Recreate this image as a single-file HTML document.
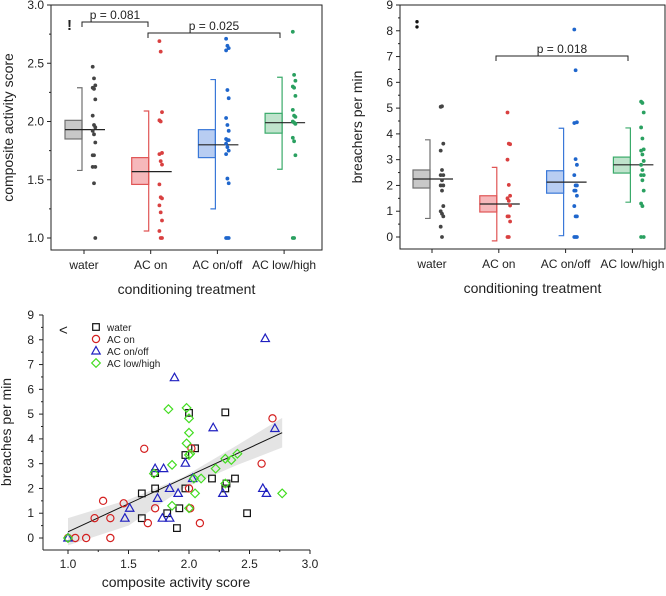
<!DOCTYPE html>
<html><head><meta charset="utf-8">
<style>
body{margin:0;background:#fff;width:666px;height:591px;overflow:hidden}
svg{font-family:"Liberation Sans",Arial,sans-serif}
</style></head>
<body>
<svg id="s" width="666" height="591"></svg>
<script>
const cats=["water","AC on","AC on/off","AC low/high"];
const colsStroke=["#707070","#e05555","#3a78d8","#3aaa6a"];
const colsFill=["#c8c8c8","#f6b8bb","#b8cdf2","#bfe3cc"];
const dotCols=["#444","#d94040","#1f66cc","#2aa060"];
// panel A: composite activity score
const actDots=[
[2.47,2.37,2.31,2.29,2.28,2.19,2.05,1.97,1.95,1.92,1.89,1.82,1.71,1.71,1.61,1.61,1.47,1.0],
[2.69,2.6,2.08,2.01,2.0,1.73,1.72,1.66,1.63,1.46,1.35,1.34,1.28,1.22,1.15,1.06,1.0,1.0],
[2.71,2.65,2.63,2.61,2.27,2.2,2.03,1.97,1.92,1.85,1.84,1.84,1.81,1.78,1.75,1.72,1.51,1.47,1.0,1.0,1.0],
[2.77,2.4,2.35,2.3,2.29,2.22,2.1,2.05,2.04,2.0,1.99,1.98,1.86,1.83,1.71,1.0,1.0]];
const actBox=[[1.85,2.01],[1.46,1.69],[1.69,1.93],[1.9,2.07]];
const actMed=[1.93,1.57,1.8,1.99];
const actWhisk=[[1.58,2.29],[1.06,2.09],[1.25,2.36],[1.59,2.38]];
const actTicks=[1.0,1.5,2.0,2.5,3.0];
// panel B: breachers per min
const brDots=[
[5.05,5.07,3.62,3.35,2.6,2.4,2.4,2.2,2.0,2.0,1.8,1.2,1.0,0.9,0.8,0.4,0.0],
[4.83,3.62,3.6,3.0,2.02,1.6,1.5,1.4,1.22,0.8,0.8,0.6,0.0,0.0],
[8.05,6.47,4.45,4.42,3.02,2.8,2.4,2.0,2.0,1.8,1.8,1.6,1.2,0.8,0.8,0.0,0.0,0.0],
[5.25,5.2,4.83,4.25,3.82,3.4,3.35,3.2,2.95,2.8,2.6,2.4,2.4,2.2,1.8,1.3,1.2,0.0,0.0]];
const brBox=[[1.9,2.6],[0.97,1.6],[1.7,2.57],[2.48,3.1]];
const brMed=[2.25,1.28,2.13,2.8];
const brWhisk=[[0.72,3.77],[-0.15,2.7],[0.05,4.22],[1.35,4.23]];
const brOut=[8.35,8.15];
const brTicks=[0,1,2,3,4,5,6,7,8,9];
// panel C scatter
const scWaterX=[2.0,2.3,2.05,1.97,2.19,2.38,1.61,1.72,1.97,2.3,1.82,1.92,1.61,1.9,2.48,1.72,2.31];
const scWaterY=[5.05,5.07,3.62,3.35,2.4,2.4,1.8,2.0,2.0,2.0,1.0,1.2,0.8,0.4,1.0,2.62,2.2];
const scOnX=[2.69,1.63,2.02,2.6,2.0,1.29,1.46,1.72,2.01,1.22,1.35,1.66,2.09,1.06,1.15,1.35,1.0];
const scOnY=[4.83,3.6,3.62,3.0,2.0,1.5,1.4,1.2,1.2,0.8,0.8,0.6,0.6,0,0,0,0];
const scOnOffX=[2.63,1.88,2.2,2.71,1.97,1.72,1.79,2.03,1.84,2.61,1.91,2.28,2.64,1.74,1.51,1.47,1.78,1.84,1.0];
const scOnOffY=[8.05,6.47,4.45,4.42,3.02,2.8,2.8,2.4,2.0,2.0,1.8,1.8,1.8,1.6,1.2,0.8,0.8,0.8,0];
const scLHX=[1.83,1.98,2.0,2.0,1.98,2.0,2.01,2.4,2.3,2.35,1.86,2.22,1.71,2.04,2.1,2.3,2.05,2.77,1.86,2.0,1.0];
const scLHY=[5.2,5.25,4.83,4.25,3.82,3.35,3.4,3.4,3.2,3.15,2.95,2.8,2.6,2.4,2.4,2.2,1.8,1.8,1.3,1.2,0];
const fitX=[1.0,2.77];
const fitY=[0.25,4.25];
const bandX=[1.0,1.5,1.95,2.4,2.77];
const bandLo=[-0.3,0.5,2.0,2.95,3.65];
const bandHi=[0.8,1.55,2.45,3.75,4.85];
const scXTicks=[1.0,1.5,2.0,2.5,3.0];
const scYTicks=[0,1,2,3,4,5,6,7,8,9];

const NS="http://www.w3.org/2000/svg";
const S=document.getElementById('s');
function mk(t,a,p){const e=document.createElementNS(NS,t);for(const k in a)e.setAttribute(k,a[k]);(p||S).appendChild(e);return e;}
function tx(x,y,s,a,p){const e=mk('text',Object.assign({x:x,y:y,'font-size':12,fill:'#222'},a||{}),p);e.textContent=s;return e;}

function boxPanel(name,X0,X1,Y0,Ybot,frameBot,vmin,vmax,catX,dots,box,med,wh,ticks,minor,ylabel){
  const g=mk('g',{});
  
  
  const sy=v=>Y0+(vmax-v)/(vmax-vmin)*(Ybot-Y0);
  mk('rect',{x:X0,y:Y0,width:X1-X0,height:frameBot-Y0,fill:'none',stroke:'#222','stroke-width':1},g);
  ticks.forEach(t=>{const y=sy(t);mk('line',{x1:X0-4,x2:X0,y1:y,y2:y,stroke:'#222'},g);
    const l=tx(X0-7,y+4,Number.isInteger(t)&&vmax>5?String(t):t.toFixed(1),{'text-anchor':'end'},g);
    });
  minor.forEach(t=>{const y=sy(t);mk('line',{x1:X0-2,x2:X0,y1:y,y2:y,stroke:'#222'},g);});
  cats.forEach((c,i)=>{const cx=catX(i);
    mk('line',{x1:cx,x2:cx,y1:frameBot,y2:frameBot+4,stroke:'#222'},g);
    const l=tx(cx,frameBot+19,c,{'text-anchor':'middle'},g);
    
    const r=mk('rect',{x:cx-19,y:sy(box[i][1]),width:17,height:sy(box[i][0])-sy(box[i][1]),fill:colsFill[i],stroke:colsStroke[i],'stroke-width':1.2},g);
    
    const wx=cx-2;
    mk('path',{d:`M${wx-5},${sy(wh[i][1])}H${wx}V${sy(wh[i][0])}H${wx-5}`,fill:'none',stroke:colsStroke[i],'stroke-width':1.2},g);
    mk('line',{x1:cx-19,x2:cx+21,y1:sy(med[i]),y2:sy(med[i]),stroke:'#222','stroke-width':1.2},g);
    dots[i].forEach((v,j)=>{const d=mk('circle',{cx:cx+10+((j%3)-1)*1.3,cy:sy(v),r:1.9,fill:dotCols[i]},g);
      });
  });
  const xl=tx((X0+X1)/2,frameBot+44,'conditioning treatment',{'text-anchor':'middle','font-size':14},g);
  
  const yl=tx(0,0,ylabel,{'text-anchor':'middle','font-size':14,transform:`translate(${X0-38},${(Y0+frameBot)/2}) rotate(-90)`},g);
  
  return {g,sy};
}
function bracket(g,x1,x2,y,label){
  const b=mk('path',{d:`M${x1},${y+5}V${y}H${x2}V${y+5}`,fill:'none',stroke:'#222','stroke-width':1},g);
  
  const t=tx((x1+x2)/2,y-3,label,{'text-anchor':'middle'},g);
  
}
// Panel A
const catA=i=>84+i*66.7;
const A=boxPanel('panel-activity',51,322,5,238,250,1.0,3.0,catA,actDots,actBox,actMed,actWhisk,actTicks,[1.25,1.75,2.25,2.75],'composite activity score');
bracket(A.g,82,148,22,'p = 0.081');
bracket(A.g,148,280,33,'p = 0.025');
tx(67,30,'!',{'font-size':15,'font-weight':'bold'},A.g);
// Panel B
const catB=i=>432+i*66.8;
const B=boxPanel('panel-breachers',400,665,5,237,249,0,9,catB,brDots,brBox,brMed,brWhisk,brTicks,[0.5,1.5,2.5,3.5,4.5,5.5,6.5,7.5,8.5],'breachers per min');
bracket(B.g,496,628,56,'p = 0.018');
brOut.forEach(v=>{const d=mk('circle',{cx:417,cy:B.sy(v),r:1.7,fill:'#111'},B.g);
  });
// Panel C
const gC=mk('g',{});


const sx=v=>68+(v-1)/2*242;
const syc=v=>538-v/9*223;
mk('line',{x1:43,x2:310,y1:550,y2:550,stroke:'#222'},gC);
mk('line',{x1:43,x2:43,y1:315,y2:550,stroke:'#222'},gC);
scXTicks.forEach(t=>{mk('line',{x1:sx(t),x2:sx(t),y1:550,y2:554,stroke:'#222'},gC);
  const l=tx(sx(t),568,t.toFixed(1),{'text-anchor':'middle'},gC);});
[1.25,1.75,2.25,2.75].forEach(t=>mk('line',{x1:sx(t),x2:sx(t),y1:550,y2:552,stroke:'#222'},gC));
scYTicks.forEach(t=>{mk('line',{x1:39,x2:43,y1:syc(t),y2:syc(t),stroke:'#222'},gC);
  const l=tx(34,syc(t)+4,String(t),{'text-anchor':'end'},gC);});
scYTicks.slice(0,9).forEach(t=>mk('line',{x1:41,x2:43,y1:syc(t+0.5),y2:syc(t+0.5),stroke:'#222'},gC));
let bp='M'+bandX.map((x,i)=>sx(x)+','+syc(bandHi[i])).join('L')+'L'+bandX.slice().reverse().map((x,i)=>sx(x)+','+syc(bandLo[bandX.length-1-i])).join('L')+'Z';
const band=mk('path',{d:bp,fill:'#ddd',opacity:0.8},gC);

const fl=mk('line',{x1:sx(fitX[0]),y1:syc(fitY[0]),x2:sx(fitX[1]),y2:syc(fitY[1]),stroke:'#111','stroke-width':1},gC);

function marker(kind,x,y,col,name){
  let e;
  if(kind==='sq')e=mk('rect',{x:x-3.3,y:y-3.3,width:6.6,height:6.6,fill:'none',stroke:col,'stroke-width':1.2},gC);
  else if(kind==='ci')e=mk('circle',{cx:x,cy:y,r:3.6,fill:'none',stroke:col,'stroke-width':1.2},gC);
  else if(kind==='tr')e=mk('path',{d:`M${x},${y-4.5}L${x+4.2},${y+3}L${x-4.2},${y+3}Z`,fill:'none',stroke:col,'stroke-width':1.2},gC);
  else e=mk('path',{d:`M${x},${y-4.3}L${x+4.3},${y}L${x},${y+4.3}L${x-4.3},${y}Z`,fill:'none',stroke:col,'stroke-width':1.2},gC);
  
  
}
scWaterX.forEach((x,i)=>marker('sq',sx(x),syc(scWaterY[i]),'#111','water-point'));
scOnX.forEach((x,i)=>marker('ci',sx(x),syc(scOnY[i]),'#d42020','ac-on-point'));
scOnOffX.forEach((x,i)=>marker('tr',sx(x),syc(scOnOffY[i]),'#2020c0','ac-on-off-point'));
scLHX.forEach((x,i)=>marker('di',sx(x),syc(scLHY[i]),'#44dd22','ac-low-high-point'));
const leg=[['sq','#111','water'],['ci','#d42020','AC on'],['tr','#2020c0','AC on/off'],['di','#44dd22','AC low/high']];
leg.forEach((l,i)=>{marker(l[0],96,327+i*12,l[1],'legend-marker');
  const t=tx(107,331+i*12,l[2],{'font-size':10},gC);});
tx(59,335,'<',{'font-size':15},gC);
const cx1=tx(176,587,'composite activity score',{'text-anchor':'middle','font-size':14},gC);

const cy1=tx(0,0,'breaches per min',{'text-anchor':'middle','font-size':14,transform:'translate(11,432) rotate(-90)'},gC);

</script>
</body></html>
